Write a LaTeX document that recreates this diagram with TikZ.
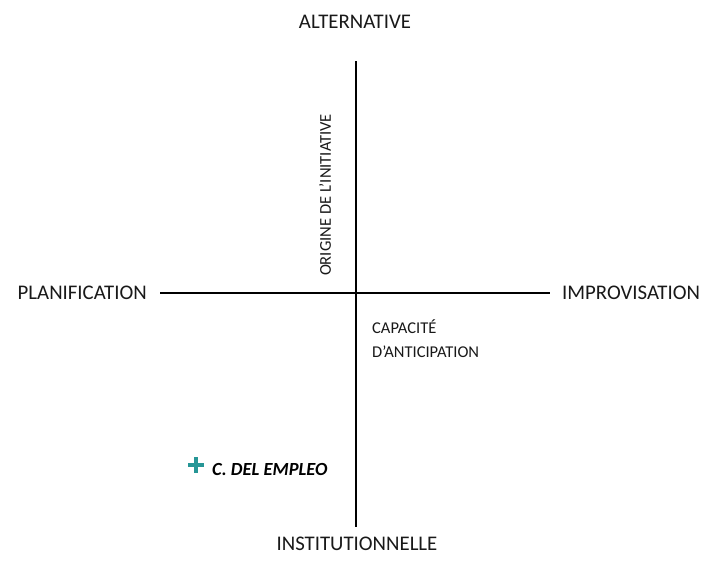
\documentclass[tikz,border=0pt]{standalone}
\usepackage{fontspec}
\setmainfont{Carlito}
\definecolor{plusteal}{RGB}{38,150,150}
\tikzset{
  axis/.style={line width=1.6pt, black},
  biglabel/.style={font=\fontsize{20.8}{25}\selectfont, text=black!90, inner sep=0pt},
  smalllabel/.style={font=\fontsize{16.5}{19}\selectfont, text=black!90, inner sep=0pt},
  caselabel/.style={font=\fontsize{18.5}{22}\selectfont\bfseries\itshape, text=black, inner sep=0pt},
}
\begin{document}
\begin{tikzpicture}[x=1pt,y=-1pt]
\useasboundingbox[fill=white] (0,0) rectangle (707,576);
\coordinate (vtop) at (356,61);
\coordinate (vbot) at (356,527);
\coordinate (hleft) at (160,293);
\coordinate (hright) at (550,293);
\draw[axis] (vtop) -- (vbot);
\draw[axis] (hleft) -- (hright);
\node[biglabel] (alt) at (355,22) {ALTERNATIVE};
\node[biglabel] (inst) at (357,544) {INSTITUTIONNELLE};
\node[biglabel, anchor=east] (plan) at (147,293) {PLANIFICATION};
\node[biglabel, anchor=west] (impr) at (562,293) {IMPROVISATION};
\node[smalllabel, rotate=90] (orig) at (325,195) {ORIGINE DE L’INITIATIVE};
\node[smalllabel, anchor=west] (cap) at (372,327) {CAPACITÉ};
\node[smalllabel, anchor=west] (anti) at (372,352) {D’ANTICIPATION};
\draw[plusteal, line width=3.6pt] (188,465) -- (204,465) (196,457) -- (196,473);
\node[caselabel, anchor=west] (emp) at (212,469) {C. DEL EMPLEO};
\end{tikzpicture}
\end{document}
